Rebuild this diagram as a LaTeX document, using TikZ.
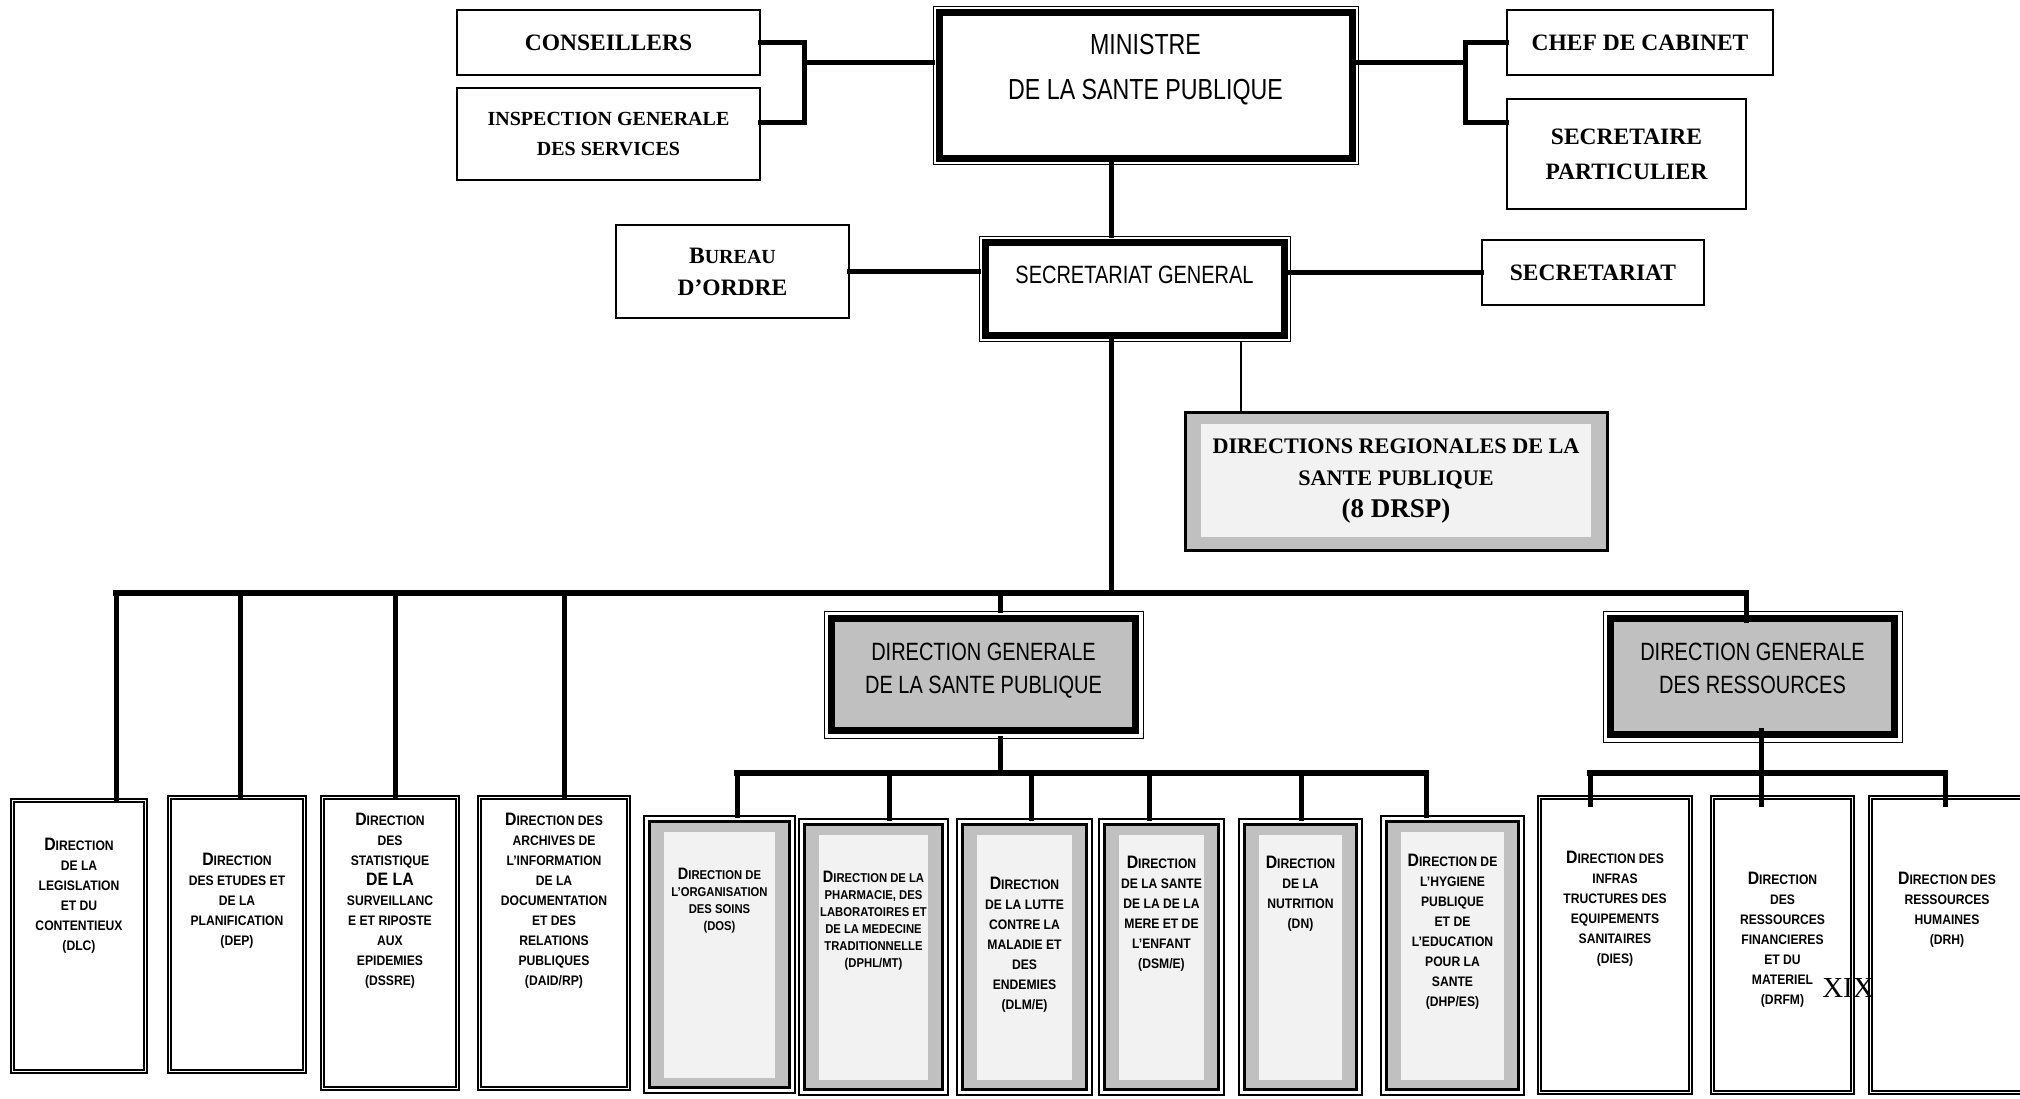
\documentclass[tikz,border=0pt]{standalone}
\usepackage{fontspec}
\setmainfont{Liberation Serif}
\newfontfamily\narrow[FakeStretch=0.8]{Liberation Sans}
\newfontfamily\dirfam[FakeStretch=0.88]{Liberation Sans}
\definecolor{bandgray}{HTML}{C0C0C0}
\definecolor{paleg}{HTML}{F2F2F2}
\newcommand\inbox[4]{\parbox[c][#1pt][t]{#2pt}{\centering\vspace*{#3pt}#4\par}}
\newcommand\capl[2][18]{{\fontsize{#1}{20}\selectfont #2}}
\tikzset{
  topbox/.style={draw, line width=1.3pt, fill=white, align=center, inner sep=0pt,
    font=\bfseries\fontsize{23.5}{35}\selectfont},
  headbox/.style={draw, line width=0.8pt, fill=white, inner sep=0pt,
    path picture={\draw[line width=7pt] ([shift={(6pt,-6pt)}]path picture bounding box.north west)
      rectangle ([shift={(-6pt,6pt)}]path picture bounding box.south east);}},
  dgbox/.style={draw, line width=0.8pt, fill=white, inner sep=0pt,
    font=\narrow\fontsize{25}{33.5}\selectfont,
    path picture={\filldraw[fill=bandgray, line width=6.5pt] ([shift={(7.5pt,-7.5pt)}]path picture bounding box.north west)
      rectangle ([shift={(-7.5pt,7.5pt)}]path picture bounding box.south east);}},
  drspbox/.style={draw, line width=3pt, fill=bandgray, align=center, inner sep=0pt,
    font=\bfseries\fontsize{22.2}{32}\selectfont,
    path picture={\fill[paleg] ([shift={(16pt,-12pt)}]path picture bounding box.north west)
      rectangle ([shift={(-16pt,13pt)}]path picture bounding box.south east);}},
  wdir/.style={draw, line width=2.2pt, double=white, double distance=1.4pt, fill=white, inner sep=0pt,
    font=\dirfam\bfseries\fontsize{13.8}{20}\selectfont},
  gdir/.style={draw, line width=1.3pt, fill=white, inner sep=0pt,
    font=\dirfam\bfseries\fontsize{13.8}{20}\selectfont,
    path picture={\filldraw[fill=bandgray, line width=3.5pt] ([shift={(5.5pt,-5.5pt)}]path picture bounding box.north west)
      rectangle ([shift={(-5.5pt,5.5pt)}]path picture bounding box.south east);
      \fill[paleg] ([shift={(20pt,-16pt)}]path picture bounding box.north west)
      rectangle ([shift={(-20pt,15pt)}]path picture bounding box.south east);}},
  gdirs/.style={gdir, font=\dirfam\bfseries\fontsize{12.8}{17}\selectfont},
  link/.style={line width=5pt, line cap=rect},
  bus/.style={line width=6.5pt, line cap=rect},
  thinlink/.style={line width=2.5pt}
}
\begin{document}
\begin{tikzpicture}[x=1pt, y=-1pt]
	\path[fill=white, use as bounding box] (0,0) rectangle (2020,1098);
	% haut
	\node[topbox, minimum width=303pt, minimum height=65pt] (cons) at (608.5,42.5) {CONSEILLERS};
	\node[topbox, minimum width=303pt, minimum height=92pt, font=\bfseries\fontsize{20}{30}\selectfont] (insp) at (608.5,134) {INSPECTION GENERALE\\DES SERVICES};
	\node[headbox, font=\narrow\fontsize{29}{45}\selectfont] (min) at (1145.5,85) {\inbox{158}{425}{28}{MINISTRE\\DE LA SANTE PUBLIQUE}};
	\node[topbox, minimum width=266pt, minimum height=65pt] (chef) at (1640,42.5) {CHEF DE CABINET};
	\node[topbox, minimum width=239pt, minimum height=110pt] (secp) at (1626.5,154) {SECRETAIRE\\PARTICULIER};
	\node[topbox, minimum width=233pt, minimum height=93pt, font=\bfseries\fontsize{23.5}{32}\selectfont] (bur) at (732.5,271.5) {B{\fontsize{20}{32}\selectfont UREAU}\\D’ORDRE};
	\node[headbox, font=\narrow\fontsize{25}{30}\selectfont] (sg) at (1134.5,288.5) {\inbox{105}{311}{30}{SECRETARIAT GENERAL}};
	\node[topbox, minimum width=222pt, minimum height=65pt] (sec) at (1593,272.5) {SECRETARIAT};
	\node[drspbox, minimum width=422pt, minimum height=138pt] (drsp) at (1396,481) {DIRECTIONS REGIONALES DE LA\\SANTE PUBLIQUE\\{\fontsize{27}{31}\selectfont (8 DRSP)}};
	\node[dgbox] (dgsp) at (983.5,674.5) {\inbox{127}{319}{32}{DIRECTION GENERALE\\DE LA SANTE PUBLIQUE}};
	\node[dgbox] (dgr) at (1752.5,676.5) {\inbox{131}{299}{32}{DIRECTION GENERALE\\DES RESSOURCES}};
	% directions
	\node[wdir] (dlc) at (79,936) {\inbox{271}{133}{37.5}{\capl{D}IRECTION\\DE LA\\LEGISLATION\\ET DU\\CONTENTIEUX\\(DLC)}};
	\node[wdir] (dep) at (237,934.5) {\inbox{274}{135}{55.5}{\capl{D}IRECTION\\DES ETUDES ET\\DE LA\\PLANIFICATION\\(DEP)}};
	\node[wdir] (dsr) at (390,943) {\inbox{291}{135}{15.5}{\capl{D}IRECTION\\DES\\STATISTIQUE\\\capl{DE LA}\\SURVEILLANC\\E ET RIPOSTE\\AUX\\EPIDEMIES\\(DSSRE)}};
	\node[wdir] (daid) at (554,943) {\inbox{291}{149}{15.5}{\capl{D}IRECTION DES\\ARCHIVES DE\\L’INFORMATION\\DE LA\\DOCUMENTATION\\ET DES\\RELATIONS\\PUBLIQUES\\(DAID/RP)}};
	\node[gdirs] (dos) at (719.5,954.5) {\inbox{277}{151}{52}{\capl[16.5]{D}IRECTION DE\\L’ORGANISATION\\DES SOINS\\(DOS)}};
	\node[gdirs] (dphl) at (873.5,957) {\inbox{276}{149}{52}{\capl[16.5]{D}IRECTION DE LA\\PHARMACIE, DES\\LABORATOIRES ET\\DE LA MEDECINE\\TRADITIONNELLE\\(DPHL/MT)}};
	\node[gdir] (dlm) at (1024.5,957) {\inbox{276}{135}{58}{\capl{D}IRECTION\\DE LA LUTTE\\CONTRE LA\\MALADIE ET\\DES\\ENDEMIES\\(DLM/E)}};
	\node[gdir] (dsm) at (1161.5,957) {\inbox{276}{125}{37}{\capl{D}IRECTION\\DE LA SANTE\\DE LA DE LA\\MERE ET DE\\L’ENFANT\\(DSM/E)}};
	\node[gdir] (dn) at (1300.5,957) {\inbox{276}{123}{37}{\capl{D}IRECTION\\DE LA\\NUTRITION\\(DN)}};
	\node[gdir] (dhp) at (1452.5,955.5) {\inbox{279}{143}{38}{\capl{D}IRECTION DE\\L’HYGIENE\\PUBLIQUE\\ET DE\\L’EDUCATION\\POUR LA\\SANTE\\(DHP/ES)}};
	\node[wdir] (dies) at (1615,945) {\inbox{295}{151}{53.5}{\capl{D}IRECTION DES\\INFRAS\\TRUCTURES DES\\EQUIPEMENTS\\SANITAIRES\\(DIES)}};
	\node[wdir] (drfm) at (1782.5,945) {\inbox{295}{140}{74.5}{\capl{D}IRECTION\\DES\\RESSOURCES\\FINANCIERES\\ET DU\\MATERIEL\\(DRFM)}};
	\node[wdir] (drh) at (1947,945) {\inbox{295}{153}{74.5}{\capl{D}IRECTION DES\\RESSOURCES\\HUMAINES\\(DRH)}};
	\node (pg) at (1848,988) {\fontsize{29}{30}\selectfont XIX};
	% liaisons
	\coordinate (lj) at (804,62);
	\coordinate (rj) at (1465,62);
	\coordinate (trunk) at (1111,593);
	\coordinate (rx) at (1241,0);
	\draw[link] (cons.east) -| (lj) |- ([yshift=12pt]insp.east);
	\draw[link] (lj) -- (lj -| min.west);
	\draw[link] (chef.west) -| (rj) |- ([yshift=32pt]secp.west);
	\draw[link] (rj) -- (rj -| min.east);
	\draw[link] (min.south -| trunk) -- (sg.north -| trunk);
	\draw[link] (bur.east) -- (bur.east -| sg.west);
	\draw[link] (sec.west -| sg.east) -- (sec.west);
	\draw[link] (sg.south -| trunk) -- (trunk);
	\draw[thinlink] (sg.south -| rx) -- (drsp.north -| rx);
	% bus
	\coordinate (b1) at (116,593);
	\coordinate (b2) at (240,593);
	\coordinate (b3) at (395.5,593);
	\coordinate (b4) at (564,593);
	\coordinate (b5) at (1000,593);
	\coordinate (b6) at (1746,593);
	\draw[bus] (b1) -- (b6);
	\draw[link] (b1) -- (dlc.north -| b1);
	\draw[link] (b2) -- (dep.north -| b2);
	\draw[link] (b3) -- (dsr.north -| b3);
	\draw[link] (b4) -- (daid.north -| b4);
	\draw[link] (b5) -- (dgsp.north -| b5);
	\draw[link] (b6) -- ([yshift=-10pt]dgr.north -| b6);
	% DGSP
	\coordinate (s0) at (1000,773);
	\coordinate (s1) at (737,773);
	\coordinate (s2) at (889,773);
	\coordinate (s3) at (1031,773);
	\coordinate (s4) at (1149,773);
	\coordinate (s5) at (1301,773);
	\coordinate (s6) at (1426,773);
	\draw[link] (dgsp.south -| s0) -- (s0);
	\draw[bus] (s1) -- (s6);
	\draw[link] (s1) -- (dos.north -| s1);
	\draw[link] (s2) -- (dphl.north -| s2);
	\draw[link] (s3) -- (dlm.north -| s3);
	\draw[link] (s4) -- (dsm.north -| s4);
	\draw[link] (s5) -- (dn.north -| s5);
	\draw[link] (s6) -- (dhp.north -| s6);
	% DGR
	\coordinate (r1) at (1590,773);
	\coordinate (r2) at (1761,773);
	\coordinate (r3) at (1945,773);
	\draw[link] ([yshift=12pt]dgr.south -| r2) -- (r2);
	\draw[bus] (r1) -- (r3);
	\draw[link] (r1) -- ([yshift=-8pt]dies.north -| r1);
	\draw[link] (r2) -- ([yshift=-8pt]drfm.north -| r2);
	\draw[link] (r3) -- ([yshift=-8pt]drh.north -| r3);
\end{tikzpicture}
\end{document}
